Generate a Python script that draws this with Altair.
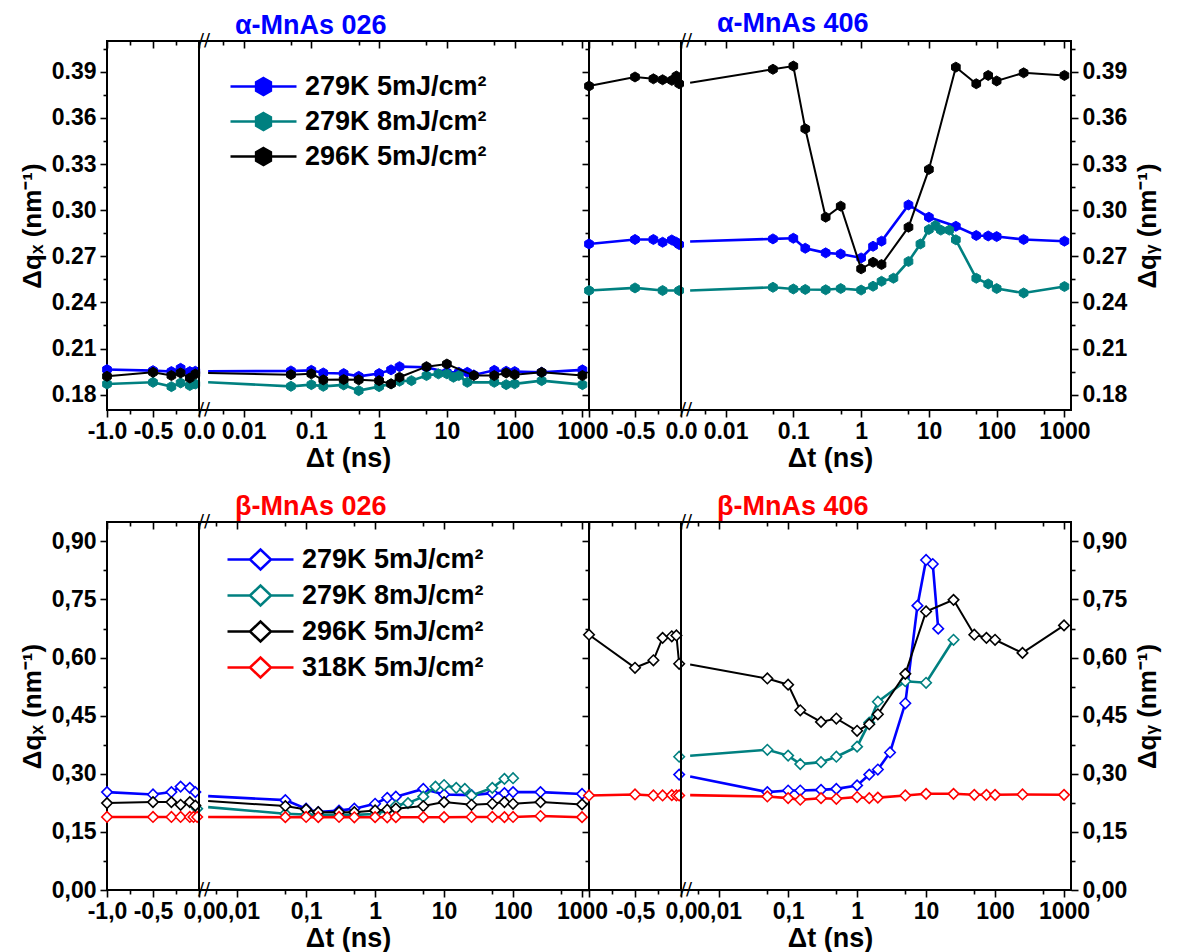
import altair as alt
import pandas as pd

FONT = "Liberation Sans"
BLUE, TEAL, BLACK, RED = "#0000FF", "#008080", "#000000", "#FF0000"

SERIES_A = ["279K 5mJ/cm²", "279K 8mJ/cm²", "296K 5mJ/cm²"]
COLORS_A = [BLUE, TEAL, BLACK]
SERIES_B = ["279K 5mJ/cm²", "279K 8mJ/cm²", "296K 5mJ/cm²", "318K 5mJ/cm²"]
COLORS_B = [BLUE, TEAL, BLACK, RED]

# time where each line re-enters the log part after the axis break
T_ENTRY_A = 0.003
T_ENTRY_B = 0.0038
T_STD = [0.05, 0.1, 0.15, 0.3, 0.5, 1, 1.5, 2, 5, 10, 25, 50, 75, 100, 250, 1000]
T_NEG_L = [-1.0, -0.5, -0.3, -0.2, -0.1, -0.04]
T_NEG_R = [-1.0, -0.5, -0.3, -0.2, -0.1, -0.05, -0.02]

# ---------------- alpha-MnAs 026 (top left) ----------------
A026_BLUE_NEG = [0.1963, 0.1956, 0.1950, 0.1971, 0.1950, 0.1952]
A026_TEAL_NEG = [0.1869, 0.1880, 0.1852, 0.1876, 0.1859, 0.1869]
A026_BLACK_NEG = [0.1919, 0.1945, 0.1924, 0.1941, 0.1908, 0.1934]
A026_BLUE_T = [0.05, 0.1, 0.15, 0.3, 0.5, 1, 1.5, 2, 5, 10, 15, 20, 25, 50, 75, 100, 250, 1000]
A026_BLUE = [0.1954, 0.1958, 0.1941, 0.1937, 0.1919, 0.1937, 0.1961, 0.1982, 0.1978, 0.1945,
             0.1945, 0.1945, 0.1928, 0.1958, 0.1952, 0.1950, 0.1945, 0.1961]
A026_TEAL_T = [0.05, 0.1, 0.15, 0.3, 0.5, 1, 1.5, 2, 3, 5, 7.5, 10, 12.5, 15, 20, 50, 75, 100, 250, 1000]
A026_TEAL = [0.1854, 0.1865, 0.1854, 0.1863, 0.1826, 0.1852, 0.1870, 0.1887, 0.1891, 0.1924,
             0.1935, 0.1935, 0.1913, 0.1924, 0.1880, 0.1880, 0.1865, 0.1870, 0.1891, 0.1865]
A026_BLACK = [0.1930, 0.1935, 0.1896, 0.1898, 0.1896, 0.1891, 0.1870, 0.1913, 0.1982, 0.1999,
              0.1924, 0.1924, 0.1941, 0.1930, 0.1945, 0.1924]
A026_ENTRY = [0.1952, 0.1880, 0.1941]

# ---------------- alpha-MnAs 406 (top right) ----------------
A406_BLUE_NEG = [0.2780, 0.2809, 0.2809, 0.2791, 0.2806, 0.2791, 0.2776]
A406_TEAL_NEG_T = [-1.0, -0.5, -0.2, -0.02]
A406_TEAL_NEG = [0.2477, 0.2494, 0.2477, 0.2477]
A406_BLACK_NEG = [0.3807, 0.3866, 0.3854, 0.3848, 0.3844, 0.3872, 0.3822]
A406_BLUE = [0.2813, 0.2817, 0.2752, 0.2722, 0.2715, 0.2689, 0.2765, 0.2798, 0.3034, 0.2954,
             0.2895, 0.2835, 0.2832, 0.2828, 0.2809, 0.2798]
A406_TEAL_T = [0.05, 0.1, 0.15, 0.3, 0.5, 1, 1.5, 2, 3, 5, 7.5, 10, 12.5, 15, 20, 25, 50, 75, 100, 250, 1000]
A406_TEAL = [0.2498, 0.2487, 0.2484, 0.2482, 0.2490, 0.2480, 0.2505, 0.2537, 0.2557, 0.2666,
             0.2780, 0.2874, 0.2900, 0.2870, 0.2870, 0.2807, 0.2557, 0.2520, 0.2490, 0.2461, 0.2503]
A406_BLACK = [0.3916, 0.3937, 0.3529, 0.2954, 0.3026, 0.2618, 0.2661, 0.2646, 0.2889, 0.3265,
              0.3930, 0.3822, 0.3876, 0.3840, 0.3893, 0.3876]
A406_ENTRY = [0.2796, 0.2477, 0.3828]

# ---------------- beta-MnAs 026 (bottom left) ----------------
B026_BLUE_NEG = [0.2527, 0.2466, 0.2527, 0.2670, 0.2637, 0.2527]
B026_TEAL_NEG_T = [-0.02]
B026_TEAL_NEG = [0.2100]
B026_BLACK_NEG = [0.2244, 0.2270, 0.2270, 0.2200, 0.2270, 0.2180]
B026_RED_NEG_T = [-1.0, -0.5, -0.3, -0.2, -0.1, -0.06, -0.02]
B026_RED_NEG = [0.1885, 0.1885, 0.1885, 0.1885, 0.1885, 0.1885, 0.1885]
B026_BLUE = [0.2320, 0.2100, 0.2010, 0.2050, 0.2100, 0.2226, 0.2380, 0.2410, 0.2610, 0.2466,
             0.2450, 0.2500, 0.2500, 0.2527, 0.2527, 0.2480]
B026_TEAL_T = [0.05, 0.1, 0.15, 0.3, 0.5, 1, 1.5, 2, 3, 5, 7.5, 10, 15, 20, 25, 50, 75, 100]
B026_TEAL = [0.1970, 0.1950, 0.1940, 0.1940, 0.1940, 0.1960, 0.2050, 0.2180, 0.2244, 0.2410,
             0.2670, 0.2710, 0.2637, 0.2610, 0.2440, 0.2637, 0.2870, 0.2886]
B026_BLACK = [0.2167, 0.2080, 0.2010, 0.2010, 0.2010, 0.2055, 0.2072, 0.2100, 0.2167, 0.2270,
              0.2200, 0.2226, 0.2270, 0.2226, 0.2270, 0.2209]
B026_RED = [0.1880, 0.1885, 0.1880, 0.1885, 0.1878, 0.1880, 0.1878, 0.1880, 0.1880, 0.1880,
            0.1885, 0.1885, 0.1880, 0.1885, 0.1910, 0.1880]
B026_ENTRY = [0.2424, 0.2140, 0.2295, 0.1885]

# ---------------- beta-MnAs 406 (bottom right) ----------------
B406_BLUE_NEG_T = [-0.02]
B406_BLUE_NEG = [0.298]
B406_TEAL_NEG_T = [-0.02]
B406_TEAL_NEG = [0.344]
B406_BLACK_NEG = [0.659, 0.5737, 0.593, 0.651, 0.655, 0.657, 0.584]
B406_RED_NEG = [0.244, 0.2466, 0.244, 0.244, 0.2449, 0.244, 0.244]
B406_BLUE_T = [0.05, 0.1, 0.15, 0.3, 0.5, 1, 1.5, 2, 3, 5, 7.5, 10, 12.5, 15]
B406_BLUE = [0.2527, 0.2568, 0.2568, 0.2586, 0.2610, 0.2700, 0.2980, 0.3110, 0.3550, 0.4820,
             0.7340, 0.8520, 0.8415, 0.6746]
B406_TEAL_T = [0.05, 0.1, 0.15, 0.3, 0.5, 1, 1.5, 2, 5, 10, 25]
B406_TEAL = [0.362, 0.347, 0.325, 0.330, 0.344, 0.370, 0.432, 0.486, 0.539, 0.535, 0.646]
B406_BLACK = [0.546, 0.530, 0.464, 0.434, 0.4427, 0.411, 0.428, 0.4537, 0.558, 0.719,
              0.749, 0.659, 0.651, 0.646, 0.612, 0.683]
B406_RED = [0.2414, 0.2372, 0.2330, 0.2370, 0.2355, 0.2400, 0.2370, 0.2385, 0.2440, 0.2483,
            0.2483, 0.2457, 0.2457, 0.2457, 0.2466, 0.2457]
B406_ENTRY = [0.2928, 0.3467, 0.582, 0.2449]

# ---------------- axes: ticks and labels ----------------
LIN_TICKS = [-1.0, -0.75, -0.5, -0.25, 0.0]
LIN_MAJOR = [-1.0, -0.5, 0.0]
LIN_LABELS_A = [(-1.0, "-1.0"), (-0.5, "-0.5"), (0.0, "0.0")]
LIN_LABELS_A_R = [(-0.5, "-0.5"), (0.0, "0.0")]
LIN_LABELS_B = [(-1.0, "-1,0"), (-0.5, "-0,5"), (0.0, "0,0")]
LIN_LABELS_B_R = [(-0.5, "-0,5"), (0.0, "0,0")]
LOG_TICKS = [0.005, 0.01, 0.05, 0.1, 0.5, 1, 5, 10, 50, 100, 500, 1000]
LOG_MAJOR = [0.01, 0.1, 1, 10, 100, 1000]
LOG_LABELS_A = [(0.01, "0.01"), (0.1, "0.1"), (1, "1"), (10, "10"), (100, "100"), (1000, "1000")]
LOG_LABELS_B = [(0.01, "0,01"), (0.1, "0,1"), (1, "1"), (10, "10"), (100, "100"), (1000, "1000")]
Y_TICKS_A = [0.18, 0.195, 0.21, 0.225, 0.24, 0.255, 0.27, 0.285, 0.30, 0.315, 0.33, 0.345,
             0.36, 0.375, 0.39, 0.405]
Y_MAJOR_A = [0.18, 0.21, 0.24, 0.27, 0.30, 0.33, 0.36, 0.39]
Y_LABELS_A = [(0.18, "0.18"), (0.21, "0.21"), (0.24, "0.24"), (0.27, "0.27"), (0.30, "0.30"),
              (0.33, "0.33"), (0.36, "0.36"), (0.39, "0.39")]
Y_TICKS_B = [0.0, 0.075, 0.15, 0.225, 0.30, 0.375, 0.45, 0.525, 0.60, 0.675, 0.75, 0.825, 0.90]
Y_MAJOR_B = [0.0, 0.15, 0.30, 0.45, 0.60, 0.75, 0.90]
Y_LABELS_B = [(0.0, "0,00"), (0.15, "0,15"), (0.30, "0,30"), (0.45, "0,45"), (0.60, "0,60"),
              (0.75, "0,75"), (0.90, "0,90")]

Y_DOM_A = [0.17, 0.41]
Y_DOM_B = [0.0, 0.95]
LOG_DOM_A = [0.0022, 1250]
LOG_DOM_B = [0.0028, 1262]
LIN_DOM = [-1.0, 0.0]

W_LIN, W_LOG = 92, 390
H_A, H_B = 369, 368

HEX = "M0,-1L0.866,-0.5L0.866,0.5L0,1L-0.866,0.5L-0.866,-0.5Z"
LEG_HEX = "M-3.3,0H3.3M0,-0.85L0.74,-0.425L0.74,0.425L0,0.85L-0.74,0.425L-0.74,-0.425Z"
LEG_DIAMOND = "M-3.3,0H-1.05M1.05,0H3.3M-1.05,0L0,-1L1.05,0L0,1Z"


def rows(name, ts, vs, marker=True):
    return [dict(series=name, t=t, v=v, marker=marker) for t, v in zip(ts, vs)]


def is_any(vals):
    return " || ".join(f"abs(datum.value - ({v})) < 1e-9" for v in vals)


def cond(vals, a, b):
    return {"condition": {"test": is_any(vals), "value": a}, "value": b}


def label_expr(pairs):
    expr = "''"
    for v, s in reversed(pairs):
        expr = f"abs(datum.value - ({v})) < 1e-9 ? '{s}' : ({expr})"
    return expr


def x_bottom(values, majors, pairs, title=None, title_x=None):
    kw = dict(orient="bottom", values=values, domain=False, grid=False, tickColor="black",
              tickWidth=1.6, tickSize=cond(majors, 7, 4), labelExpr=label_expr(pairs),
              labelFont=FONT, labelFontSize=23, labelFontWeight="bold", labelColor="black",
              labelPadding=3, labelFlush=False, labelOverlap=False)
    if title:
        kw.update(title=title, titleFont=FONT, titleFontSize=27, titleFontWeight="bold",
                  titleColor="black", titleX=title_x, titlePadding=2)
    else:
        kw["title"] = None
    return alt.Axis(**kw)


def x_top(values, majors):
    return alt.Axis(orient="top", values=values, domain=False, grid=False, labels=False,
                    tickColor="black", tickWidth=1.6, tickSize=cond(majors, -7, -4), title=None)


def y_axis(orient, values, majors, pairs=None, title=None):
    kw = dict(orient=orient, values=values, domain=False, grid=False, tickColor="black",
              tickWidth=1.6, tickSize=cond(majors, 7, 4))
    if pairs:
        kw.update(labelExpr=label_expr(pairs), labelFont=FONT, labelFontSize=23,
                  labelFontWeight="bold", labelColor="black", labelPadding=4,
                  labelOverlap=False)
    else:
        kw["labels"] = False
    if title:
        kw.update(title=title, titleFont=FONT, titleFontSize=26, titleFontWeight="bold",
                  titleColor="black", titleAngle=270, titlePadding=6)
        if orient == "right":
            kw.update(titleBaseline="top", titlePadding=8)
    else:
        kw["title"] = None
    return alt.Axis(**kw)


def panel(df, names, colors, xdom, xtype, ydom, w, h, xb, xt, ya, hexes, legend=None,
          title=None, breaks=False):
    xs = alt.Scale(domain=xdom, type=xtype, nice=False) if xtype == "log" else \
        alt.Scale(domain=xdom, nice=False, zero=False)
    ys = alt.Scale(domain=ydom, nice=False, zero=False)
    sc = alt.Scale(domain=names, range=colors)
    X = alt.X("t:Q", scale=xs, axis=xb)
    Y = alt.Y("v:Q", scale=ys, axis=ya)
    layers = []
    for name, col in zip(names, colors):
        base = alt.Chart(df).transform_filter(alt.FieldEqualPredicate(field="series", equal=name))
        line = base.mark_line(strokeWidth=2.0 if col == BLACK else 2.6).encode(
            x=X, y=Y, stroke=alt.Stroke("series:N", scale=sc, legend=legend))
        pts = base.transform_filter(alt.FieldEqualPredicate(field="marker", equal=True))
        if hexes:
            pts = pts.mark_point(shape=HEX, filled=True, size=100, strokeWidth=1, opacity=1).encode(
                x=X, y=Y,
                stroke=alt.Stroke("series:N", scale=sc, legend=legend),
                fill=alt.Fill("series:N", scale=sc, legend=legend),
            )
        else:
            pts = pts.mark_point(shape="diamond", filled=True, fill="white", size=110,
                                 strokeWidth=1.6, opacity=1).encode(
                x=X, y=Y, stroke=alt.Stroke("series:N", scale=sc, legend=legend))
        layers += [line, pts]
    if breaks:
        one = alt.Data(values=[{}])
        for yv in ydom:
            layers.append(
                alt.Chart(one).mark_text(text="//", font="DejaVu Sans", fontSize=18, dx=5,
                                         color="black").encode(
                    x=alt.XDatum(xdom[1], scale=xs, axis=xb),
                    y=alt.YDatum(yv, scale=ys, axis=ya),
                )
            )
    inner = alt.layer(*layers)
    top = alt.Chart(df).mark_point(opacity=0).encode(
        x=alt.X("t:Q", scale=xs, axis=xt), y=Y)
    ch = alt.layer(inner, top).resolve_axis(x="independent").properties(width=w, height=h)
    if title is not None:
        ch = ch.properties(title=title)
    return ch


def make_row(left_neg, left_pos, right_neg, right_pos, names, colors, logdom, ydom, h,
             hexes, lin_lab, lin_lab_r, log_lab, ypairs, yticks, ymajor, ytitle_l, ytitle_r,
             title_l, title_r, title_color, legend):
    tx = (W_LIN + W_LOG) / 2 - W_LIN
    tp = dict(color=title_color, font=FONT, fontSize=27, fontWeight="bold", anchor="start",
              dx=36, offset=0)
    p1 = panel(pd.DataFrame(left_neg), names, colors, LIN_DOM, "linear", ydom, W_LIN, h,
               x_bottom(LIN_TICKS, LIN_MAJOR, lin_lab), x_top(LIN_TICKS, LIN_MAJOR),
               y_axis("left", yticks, ymajor, ypairs, ytitle_l), hexes, breaks=True)
    p2 = panel(pd.DataFrame(left_pos), names, colors, logdom, "log", ydom, W_LOG, h,
               x_bottom(LOG_TICKS, LOG_MAJOR, log_lab, "Δt (ns)", tx), x_top(LOG_TICKS, LOG_MAJOR),
               None, hexes, legend=legend, title=alt.TitleParams(title_l, **tp))
    p3 = panel(pd.DataFrame(right_neg), names, colors, LIN_DOM, "linear", ydom, W_LIN, h,
               x_bottom(LIN_TICKS, LIN_MAJOR, lin_lab_r), x_top(LIN_TICKS, LIN_MAJOR),
               y_axis("left", yticks, ymajor), hexes, breaks=True)
    p4 = panel(pd.DataFrame(right_pos), names, colors, logdom, "log", ydom, W_LOG, h,
               x_bottom(LOG_TICKS, LOG_MAJOR, log_lab, "Δt (ns)", tx), x_top(LOG_TICKS, LOG_MAJOR),
               y_axis("right", yticks, ymajor, ypairs, ytitle_r), hexes,
               title=alt.TitleParams(title_r, **tp))
    return alt.hconcat(p1, p2, p3, p4, spacing=0, bounds="flush").resolve_scale(
        stroke="independent", fill="independent").resolve_legend(
        stroke="independent", fill="independent")


# ----- top row data tables -----
a_ln = (rows(SERIES_A[0], T_NEG_L, A026_BLUE_NEG) + rows(SERIES_A[1], T_NEG_L, A026_TEAL_NEG)
        + rows(SERIES_A[2], T_NEG_L, A026_BLACK_NEG))
a_lp = (rows(SERIES_A[0], [T_ENTRY_A], [A026_ENTRY[0]], False) + rows(SERIES_A[0], A026_BLUE_T, A026_BLUE)
        + rows(SERIES_A[1], [T_ENTRY_A], [A026_ENTRY[1]], False) + rows(SERIES_A[1], A026_TEAL_T, A026_TEAL)
        + rows(SERIES_A[2], [T_ENTRY_A], [A026_ENTRY[2]], False) + rows(SERIES_A[2], T_STD, A026_BLACK))
a_rn = (rows(SERIES_A[0], T_NEG_R, A406_BLUE_NEG) + rows(SERIES_A[1], A406_TEAL_NEG_T, A406_TEAL_NEG)
        + rows(SERIES_A[2], T_NEG_R, A406_BLACK_NEG))
a_rp = (rows(SERIES_A[0], [T_ENTRY_A], [A406_ENTRY[0]], False) + rows(SERIES_A[0], T_STD, A406_BLUE)
        + rows(SERIES_A[1], [T_ENTRY_A], [A406_ENTRY[1]], False) + rows(SERIES_A[1], A406_TEAL_T, A406_TEAL)
        + rows(SERIES_A[2], [T_ENTRY_A], [A406_ENTRY[2]], False) + rows(SERIES_A[2], T_STD, A406_BLACK))

# ----- bottom row data tables -----
b_ln = (rows(SERIES_B[0], T_NEG_L, B026_BLUE_NEG) + rows(SERIES_B[1], B026_TEAL_NEG_T, B026_TEAL_NEG)
        + rows(SERIES_B[2], T_NEG_L, B026_BLACK_NEG) + rows(SERIES_B[3], B026_RED_NEG_T, B026_RED_NEG))
b_lp = (rows(SERIES_B[0], [T_ENTRY_B], [B026_ENTRY[0]], False) + rows(SERIES_B[0], T_STD, B026_BLUE)
        + rows(SERIES_B[1], [T_ENTRY_B], [B026_ENTRY[1]], False) + rows(SERIES_B[1], B026_TEAL_T, B026_TEAL)
        + rows(SERIES_B[2], [T_ENTRY_B], [B026_ENTRY[2]], False) + rows(SERIES_B[2], T_STD, B026_BLACK)
        + rows(SERIES_B[3], [T_ENTRY_B], [B026_ENTRY[3]], False) + rows(SERIES_B[3], T_STD, B026_RED))
b_rn = (rows(SERIES_B[0], B406_BLUE_NEG_T, B406_BLUE_NEG) + rows(SERIES_B[1], B406_TEAL_NEG_T, B406_TEAL_NEG)
        + rows(SERIES_B[2], T_NEG_R, B406_BLACK_NEG) + rows(SERIES_B[3], T_NEG_R, B406_RED_NEG))
b_rp = (rows(SERIES_B[0], [T_ENTRY_B], [B406_ENTRY[0]], False) + rows(SERIES_B[0], B406_BLUE_T, B406_BLUE)
        + rows(SERIES_B[1], [T_ENTRY_B], [B406_ENTRY[1]], False) + rows(SERIES_B[1], B406_TEAL_T, B406_TEAL)
        + rows(SERIES_B[2], [T_ENTRY_B], [B406_ENTRY[2]], False) + rows(SERIES_B[2], T_STD, B406_BLACK)
        + rows(SERIES_B[3], [T_ENTRY_B], [B406_ENTRY[3]], False) + rows(SERIES_B[3], T_STD, B406_RED))

leg_common = dict(title=None, orient="none", symbolSize=400, symbolStrokeWidth=2.5,
                  labelFont=FONT, labelFontSize=27, labelFontWeight="bold", labelColor="black",
                  labelOffset=28, padding=0, labelLimit=400)
legend_a = alt.Legend(symbolType=LEG_HEX, legendX=51, legendY=32, rowPadding=7, **leg_common)
legend_b = alt.Legend(symbolType=LEG_DIAMOND, legendX=48, legendY=24, rowPadding=5,
                      symbolFillColor="white", **leg_common)

top_row = make_row(a_ln, a_lp, a_rn, a_rp, SERIES_A, COLORS_A, LOG_DOM_A, Y_DOM_A, H_A, True,
                   LIN_LABELS_A, LIN_LABELS_A_R, LOG_LABELS_A, Y_LABELS_A, Y_TICKS_A, Y_MAJOR_A,
                   "Δqₓ (nm⁻¹)", "Δqᵧ (nm⁻¹)", "α-MnAs 026", "α-MnAs 406", BLUE, legend_a)
bot_row = make_row(b_ln, b_lp, b_rn, b_rp, SERIES_B, COLORS_B, LOG_DOM_B, Y_DOM_B, H_B, False,
                   LIN_LABELS_B, LIN_LABELS_B_R, LOG_LABELS_B, Y_LABELS_B, Y_TICKS_B, Y_MAJOR_B,
                   "Δqₓ (nm⁻¹)", "Δqᵧ (nm⁻¹)", "β-MnAs 026", "β-MnAs 406", RED, legend_b)

chart = alt.vconcat(top_row, bot_row, spacing=20).resolve_scale(
    stroke="independent", fill="independent").resolve_legend(
    stroke="independent", fill="independent").properties(
    padding={"left": 10, "top": 0, "right": 2, "bottom": 0}
).configure_view(stroke="black", strokeWidth=2)

chart.save("out.html", embed_options={"renderer": "svg", "actions": False})
